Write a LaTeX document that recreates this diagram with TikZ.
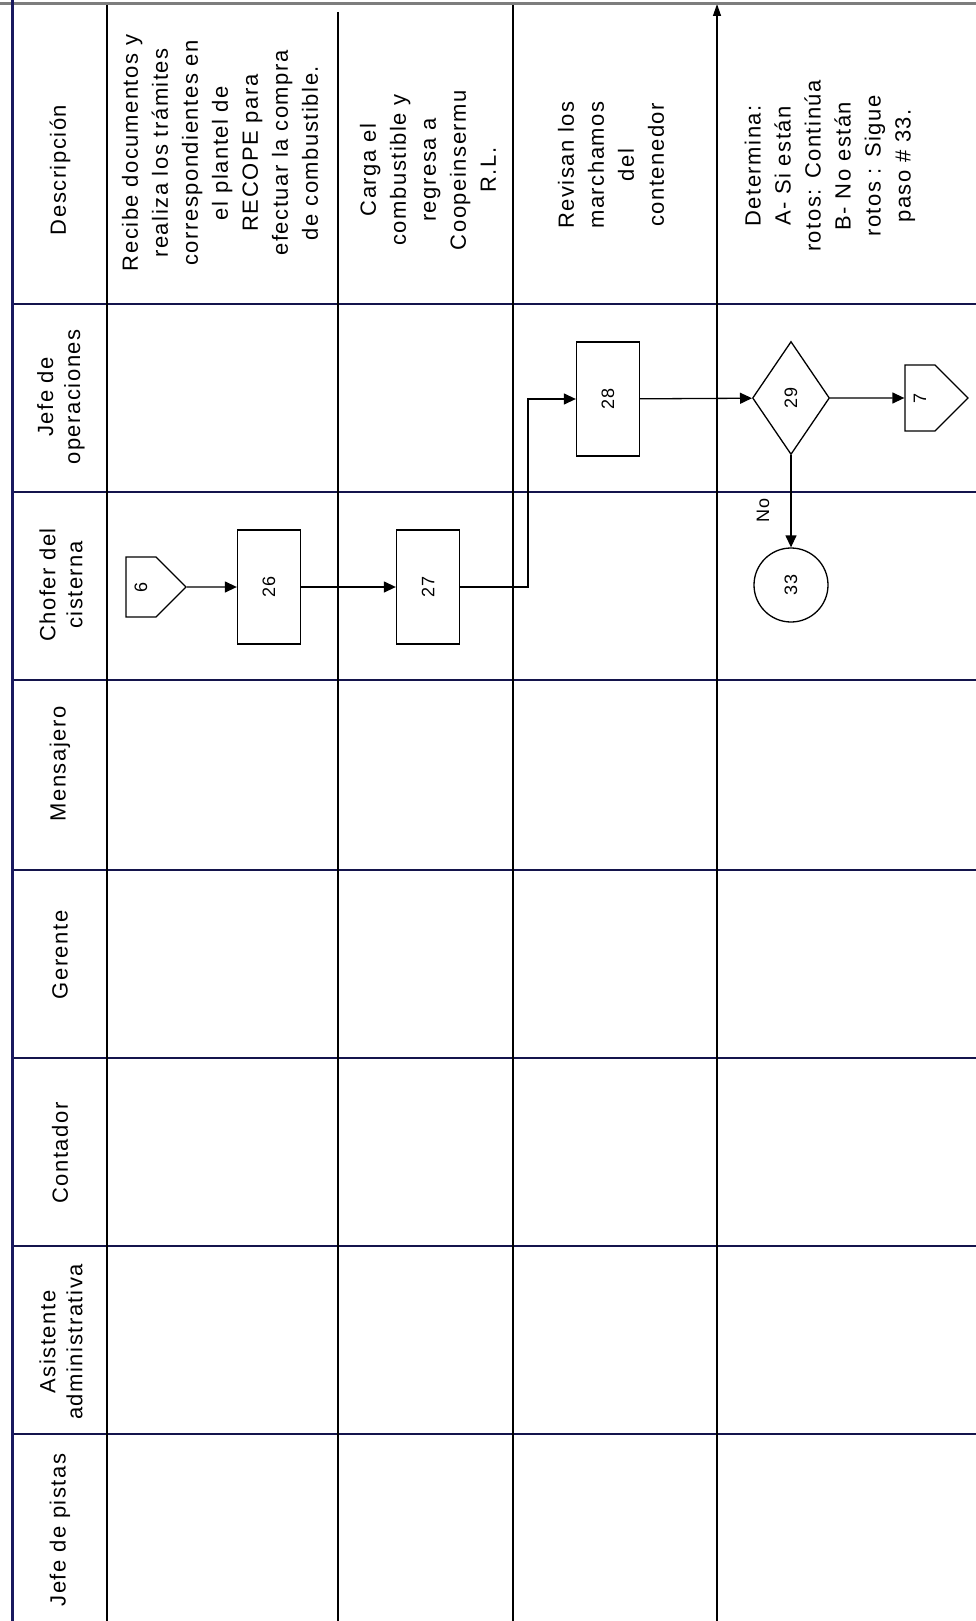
\documentclass[tikz,border=0pt]{standalone}
\usepackage{fontspec}
\newfontfamily\lanefont[LetterSpace=7]{Liberation Sans}
\usepackage{tikz}
\usetikzlibrary{shapes.geometric, shapes.symbols, arrows.meta, positioning, calc}
\definecolor{navyline}{RGB}{25,25,95}
\definecolor{topgray}{RGB}{125,125,125}

\begin{document}
\begin{tikzpicture}[
  x=1pt, y=-1pt,
  grid/.style={draw=black, line width=1.6pt},
  lane/.style={rotate=90, align=center, inner sep=0pt, font=\lanefont\fontsize{22}{27}\selectfont},
  desc/.style={rotate=90, align=center, inner sep=0pt, font=\lanefont\fontsize{22}{30}\selectfont},
  num/.style={draw, line width=1.3pt, inner sep=0pt, font=\lanefont\fontsize{18}{20}\selectfont},
  proc/.style={num, rectangle, minimum width=63pt, minimum height=114pt},
  decision/.style={num, diamond, minimum width=77pt, minimum height=113pt},
  offpage/.style={num, signal, signal to=east, signal pointer angle=90, minimum width=60pt, minimum height=60pt},
  connector/.style={num, circle, minimum size=74pt},
  arrow/.style={-{Triangle[length=12pt,width=11pt]}, line width=1.3pt}
]
  \useasboundingbox (0,0) rectangle (976,1621);

  \foreach \y in {304,492,680,870,1058,1246,1434}
    \draw[grid, draw=navyline!80!black] (12,\y) -- (976,\y);
  \foreach \x in {107,513}
    \draw[grid] (\x,4) -- (\x,1621);
  \draw[grid] (338,12) -- (338,1621);
  \draw[grid, arrow, -{Triangle[length=12pt,width=8pt]}] (717,1621) -- (717,4);
  \draw[line width=3pt, topgray] (0,4) -- (976,4);
  \draw[line width=3pt, navyline] (12,0) -- (12,1621);

  \node[lane] (hdesc) at (60,170) {Descripción};
  \node[lane] (hjop)  at (61,397) {Jefe de\\operaciones};
  \node[lane] (hchof) at (61,585) {Chofer del\\cisterna};
  \node[lane] (hmens) at (60,764) {Mensajero};
  \node[lane] (hger)  at (60,955) {Gerente};
  \node[lane] (hcont) at (60,1153) {Contador};
  \node[lane] (hasis) at (61,1342) {Asistente\\administrativa};
  \node[lane] (hpis)  at (60,1530) {Jefe de pistas};

  \node[desc] (d1) at (220,153) {Recibe documentos y\\realiza los trámites\\correspondientes en\\el plantel de\\RECOPE para\\efectuar la compra\\de combustible.};
  \node[desc] (d2) at (428,170) {Carga el\\combustible y\\regresa a\\Coopeinsermu\\R.L.};
  \node[desc] (d3) at (611,165) {Revisan los\\marchamos\\del\\contenedor};
  \node[desc] (d4) at (830,166) {Determina:\\A- Si están\\rotos: Continúa\\B- No están\\rotos : Sigue\\paso \# 33.};

  \node[offpage] (s6) at (141,587) {\rotatebox{90}{6}};
  \node[proc] (b26) at (269,587) {\rotatebox{90}{26}};
  \node[proc] (b27) at (428,587) {\rotatebox{90}{27}};
  \node[proc] (b28) at (608,399) {\rotatebox{90}{28}};
  \node[decision] (d29) at (791,398) {\rotatebox{90}{29}};
  \node[offpage, minimum width=63pt, minimum height=66pt] (s7) at (920,398) {\rotatebox{90}{7}};
  \node[connector] (c33) at (791,585) {\rotatebox{90}{33}};
  \coordinate (jog) at (528,587);

  \draw[arrow] (s6) -- (b26);
  \draw[arrow] (b26) -- (b27);
  \draw[arrow] (b27.east) -- (jog) |- (b28.west);
  \draw[arrow] (b28) -- (d29);
  \draw[arrow] (d29) -- (s7);
  \draw[arrow] (d29.south) -- node[pos=0.6, xshift=-28pt, rotate=90, font=\lanefont\fontsize{18}{20}\selectfont] {No} (c33.north);
\end{tikzpicture}
\end{document}
